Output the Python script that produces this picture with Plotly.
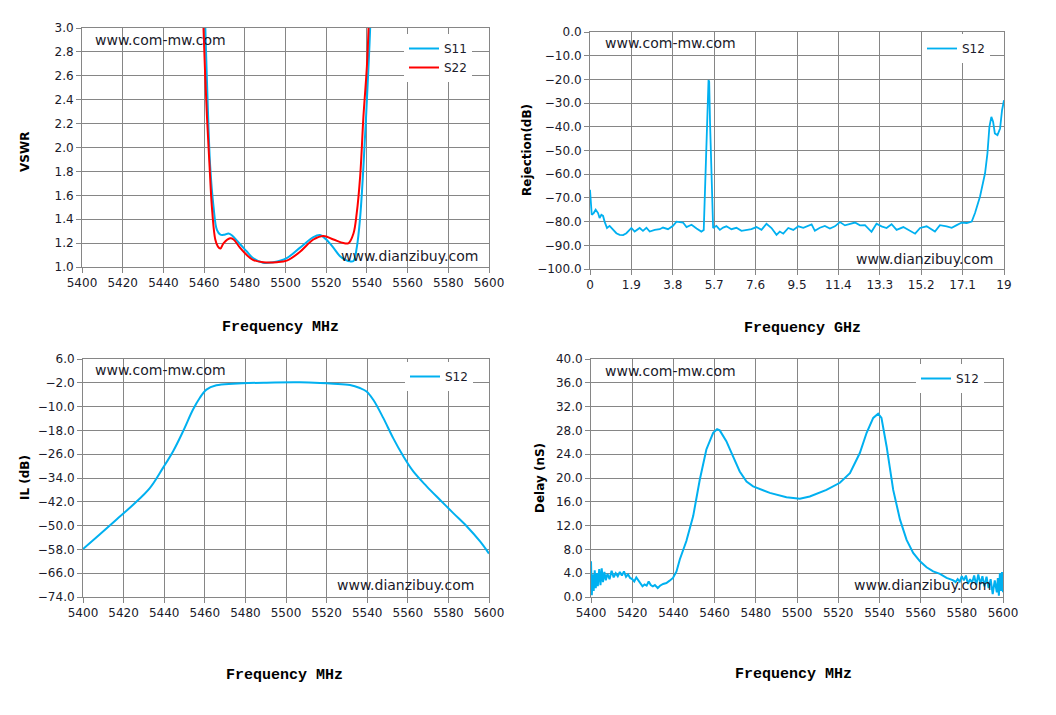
import plotly.graph_objects as go

# ---------------- DATA ----------------
# VSWR (MHz)
vswr_s11_f = [5460.0, 5460.6, 5461.7, 5463.0, 5464.6, 5466.3, 5468.0, 5470.0, 5472.0, 5474.0,
              5477.7, 5481.0, 5484.0, 5489.0, 5494.0, 5500.6, 5507.0, 5513.7, 5517.0, 5520.0,
              5523.6, 5526.8, 5529.5, 5531.7, 5533.4, 5535.0, 5536.7, 5538.3, 5540.0, 5541.6, 5542.0]
vswr_s11_v = [3.3, 3.0, 2.4, 1.84, 1.51, 1.31, 1.27, 1.27, 1.28, 1.26,
              1.19, 1.13, 1.075, 1.035, 1.04, 1.075, 1.16, 1.25, 1.267, 1.23,
              1.16, 1.09, 1.06, 1.047, 1.05, 1.16, 1.42, 1.84, 2.4, 3.0, 3.3]
vswr_s22_f = [5459.4, 5459.7, 5461.4, 5462.7, 5463.8, 5465.5, 5466.8, 5468.0, 5469.6, 5472.8,
              5474.5, 5477.7, 5481.0, 5484.0, 5489.0, 5495.7, 5500.6, 5507.0, 5513.7, 5518.7,
              5523.6, 5528.5, 5531.0, 5533.4, 5535.0, 5536.7, 5538.3, 5540.0, 5540.8, 5541.2]
vswr_s22_v = [3.3, 3.0, 2.26, 1.84, 1.51, 1.23, 1.17, 1.155, 1.2, 1.24,
              1.23, 1.16, 1.1, 1.06, 1.04, 1.04, 1.053, 1.125, 1.23, 1.26,
              1.23, 1.2, 1.2, 1.28, 1.45, 1.76, 2.26, 2.68, 3.0, 3.3]

# Rejection (GHz)
rej_f = [0.00, 0.03, 0.08, 0.17, 0.26, 0.37, 0.44, 0.52, 0.60, 0.67, 0.78, 0.90, 1.06, 1.21, 1.36,
         1.52, 1.67, 1.90, 2.05, 2.28, 2.43, 2.59, 2.74, 2.97, 3.20, 3.35, 3.58, 3.81, 3.97, 4.12,
         4.27, 4.43, 4.66, 4.89, 5.11, 5.22, 5.27, 5.31, 5.38, 5.44, 5.47, 5.51, 5.56, 5.60, 5.65,
         5.80, 5.96, 6.11, 6.26, 6.49, 6.72, 6.95, 7.18, 7.41, 7.64, 7.87, 8.10, 8.33, 8.56, 8.71,
         8.87, 9.10, 9.33, 9.56, 9.79, 10.02, 10.17, 10.32, 10.55, 10.78, 11.01, 11.24, 11.47, 11.70,
         11.93, 12.16, 12.39, 12.62, 12.92, 13.15, 13.38, 13.61, 13.84, 14.07, 14.38, 14.61, 14.92,
         15.15, 15.45, 15.83, 16.06, 16.37, 16.60, 16.83, 17.06, 17.29, 17.52, 17.67, 17.90, 18.13,
         18.24, 18.33, 18.42, 18.50, 18.58, 18.70, 18.82, 18.91, 19.00]
rej_v = [-66.6, -72.9, -77.1, -76.4, -75.0, -76.4, -78.5, -77.1, -77.6, -80.0, -82.7, -81.8, -83.5, -84.9, -85.6,
         -85.7, -84.9, -82.7, -84.2, -82.7, -83.9, -82.6, -84.2, -83.5, -83.2, -82.5, -83.2, -81.8, -80.0, -80.2,
         -80.4, -82.3, -81.3, -82.9, -84.2, -83.5, -70.8, -54.0, -35.8, -20.3, -21.0, -38.6, -58.2, -74.3, -82.7,
         -81.8, -83.5, -82.5, -82.0, -83.2, -82.6, -83.9, -83.5, -83.2, -82.3, -83.5, -80.9, -82.7, -85.6, -84.2,
         -85.1, -82.7, -83.5, -82.0, -82.6, -81.8, -81.2, -83.9, -82.6, -81.8, -82.9, -82.0, -80.2, -81.6,
         -80.9, -80.4, -81.6, -81.5, -84.3, -80.9, -82.0, -82.7, -81.1, -83.5, -82.3, -83.5, -85.1,
         -82.7, -82.0, -84.2, -81.5, -82.0, -82.6, -81.5, -80.4, -80.6, -80.0, -76.4, -69.4, -59.6,
         -51.2, -40.0, -35.8, -37.9, -42.8, -43.5, -40.7, -33.0, -28.8]

# Insertion loss (MHz)
il_f = [5400.0, 5408.2, 5416.4, 5424.7, 5432.9, 5439.4, 5444.4, 5449.3, 5454.2, 5457.5, 5460.8,
        5465.7, 5473.9, 5490.4, 5506.8, 5516.7, 5523.3, 5531.5, 5536.4, 5539.7, 5543.0, 5547.9,
        5552.8, 5557.8, 5562.7, 5569.3, 5575.8, 5582.4, 5589.0, 5595.6, 5600.0]
il_v = [-57.9, -53.0, -48.0, -43.0, -37.4, -30.6, -25.0, -18.3, -11.0, -7.1, -4.3,
        -2.85, -2.3, -1.95, -1.85, -2.05, -2.3, -2.75, -3.75, -4.9, -7.7, -13.8,
        -20.6, -26.7, -31.8, -36.8, -41.3, -45.8, -50.2, -55.3, -59.4]

# Group delay (MHz)
gd_f = [5400.0, 5400.4, 5400.8, 5401.3, 5401.8, 5402.3, 5402.8, 5403.3, 5404.0, 5404.6, 5405.2, 5405.8,
        5406.5, 5407.2, 5408.0, 5409.0, 5410.0, 5411.0, 5412.0, 5413.0, 5414.0, 5415.0, 5416.0, 5417.0,
        5418.0, 5419.0, 5420.0, 5421.0, 5422.0, 5423.0, 5424.0, 5425.0, 5426.0, 5427.0, 5428.0, 5429.0,
        5430.0, 5431.0, 5432.4, 5433.5, 5435.0, 5436.6, 5438.0, 5439.8, 5441.5, 5443.1, 5446.3, 5449.6,
        5452.8, 5456.0, 5459.3, 5461.2, 5462.5, 5465.7, 5469.0, 5472.2, 5475.5, 5478.7, 5486.8, 5494.9,
        5501.4, 5506.2, 5514.3, 5520.8, 5525.7, 5530.5, 5533.8, 5537.0, 5539.4, 5541.0, 5543.5, 5546.7,
        5550.0, 5553.2, 5556.4, 5559.7, 5562.9, 5566.1, 5569.4, 5572.6, 5575.9, 5577.0, 5578.0, 5579.0,
        5580.0, 5581.0, 5582.0, 5583.0, 5584.0, 5585.0, 5586.0, 5587.0, 5588.0, 5589.0, 5590.0, 5591.0,
        5592.0, 5593.0, 5594.0, 5595.0, 5596.0, 5597.0, 5597.5, 5598.0, 5598.5, 5599.0, 5599.5, 5600.0]
gd_v = [6.0, 0.3, 3.8, 1.0, 4.5, 1.5, 4.0, 1.8, 4.7, 2.0, 4.8, 2.5,
        4.2, 2.8, 3.9, 3.0, 4.4, 3.3, 4.0, 3.5, 4.2, 3.6, 4.3, 3.4,
        3.8, 3.2, 3.0, 2.6, 3.3, 2.8, 2.2, 1.8, 2.1, 1.9, 2.6, 2.0,
        1.8, 2.0, 1.5, 1.9, 2.2, 2.35, 2.7, 3.2, 4.3, 6.3, 9.4, 13.6,
        19.7, 24.8, 27.6, 28.2, 28.0, 26.2, 23.6, 21.1, 19.4, 18.6, 17.5, 16.75,
        16.5, 16.9, 18.0, 19.2, 20.8, 24.2, 27.6, 30.1, 30.8, 30.1, 25.3, 18.0,
        13.0, 9.6, 7.4, 6.0, 5.0, 4.3, 3.9, 3.2, 2.8, 2.5, 3.0, 2.6,
        3.5, 2.8, 3.6, 2.2, 3.0, 2.4, 3.6, 2.0, 3.8, 2.2, 3.5, 1.8,
        3.4, 1.5, 3.0, 0.5, 2.8, 0.8, 3.2, 0.2, 4.0, 1.0, 4.2, 0.8]

mhz_ticks = [5400, 5420, 5440, 5460, 5480, 5500, 5520, 5540, 5560, 5580, 5600]
ghz_ticks = [0, 1.9, 3.8, 5.7, 7.6, 9.5, 11.4, 13.3, 15.2, 17.1, 19]
ghz_labels = ["0", "1.9", "3.8", "5.7", "7.6", "9.5", "11.4", "13.3", "15.2", "17.1", "19"]

# ---------------- STYLE ----------------
W, H = 1056, 715
OFF = 8  # page body margin of the browser
BLUE = "#00B0F0"
RED = "#FF0000"
GRID = "#868686"
TXT = "#1a1a2a"
FONT = "DejaVu Sans"


def px(x):
    return (x - OFF) / W


def py(y):
    return 1 - (y - OFF) / H


def xd(a, b):
    return [px(a), px(b)]


def yd(top, bot):
    return [py(bot), py(top)]


fig = go.Figure()
fig.add_trace(go.Scatter(x=vswr_s11_f, y=vswr_s11_v, mode="lines", name="S11", line_shape="spline",
                         line=dict(color=BLUE, width=2), xaxis="x", yaxis="y", legend="legend"))
fig.add_trace(go.Scatter(x=vswr_s22_f, y=vswr_s22_v, mode="lines", name="S22", line_shape="spline",
                         line=dict(color=RED, width=2), xaxis="x", yaxis="y", legend="legend"))
fig.add_trace(go.Scatter(x=rej_f, y=rej_v, mode="lines", name="S12",
                         line=dict(color=BLUE, width=1.8), xaxis="x2", yaxis="y2", legend="legend2"))
fig.add_trace(go.Scatter(x=il_f, y=il_v, mode="lines", name="S12", line_shape="spline",
                         line=dict(color=BLUE, width=2), xaxis="x3", yaxis="y3", legend="legend3"))
fig.add_trace(go.Scatter(x=gd_f, y=gd_v, mode="lines", name="S12",
                         line=dict(color=BLUE, width=2), xaxis="x4", yaxis="y4", legend="legend4"))

axcommon = dict(showgrid=True, gridcolor=GRID, gridwidth=1, showline=True, linecolor=GRID,
                linewidth=1, mirror=True, ticks="outside", ticklen=5, tickcolor=GRID,
                zeroline=False, automargin=False, tickfont=dict(family=FONT, size=12, color=TXT))

layout = dict(
    width=W, height=H, margin=dict(l=0, r=0, t=0, b=0, autoexpand=False),
    paper_bgcolor="white", plot_bgcolor="white", showlegend=True,
    xaxis=dict(domain=xd(82, 489), range=[5400, 5600], tickvals=mhz_ticks, anchor="y", **axcommon),
    yaxis=dict(domain=yd(28, 267), range=[1.0, 3.0], dtick=0.2, tick0=1.0, tickformat=".1f",
               anchor="x", **axcommon),
    xaxis2=dict(domain=xd(590, 1004), range=[0, 19], tickvals=ghz_ticks, ticktext=ghz_labels,
                anchor="y2", **axcommon),
    yaxis2=dict(domain=yd(32, 269), range=[-100, 0], dtick=10, tickformat=".1f",
                anchor="x2", **axcommon),
    xaxis3=dict(domain=xd(83, 489), range=[5400, 5600], tickvals=mhz_ticks, anchor="y3", **axcommon),
    yaxis3=dict(domain=yd(359, 597), range=[-74, 6], dtick=8, tick0=6, tickformat=".1f",
                anchor="x3", **axcommon),
    xaxis4=dict(domain=xd(591, 1003), range=[5400, 5600], tickvals=mhz_ticks, anchor="y4", **axcommon),
    yaxis4=dict(domain=yd(359, 597), range=[0, 40], dtick=4, tickformat=".1f",
                anchor="x4", **axcommon),
)

legcommon = dict(bgcolor="white", borderwidth=0, font=dict(family=FONT, size=12, color=TXT),
                 xanchor="left", yanchor="top", itemwidth=30, tracegroupgap=0)
layout["legend"] = dict(x=px(404), y=py(34), **legcommon)
layout["legend2"] = dict(x=px(922), y=py(34), **legcommon)
layout["legend3"] = dict(x=px(405), y=py(362), **legcommon)
layout["legend4"] = dict(x=px(916), y=py(364), **legcommon)
fig.update_layout(**layout)

ann = []


def txt(x, y, s, xanchor="left", size=14, **kw):
    ann.append(dict(x=px(x), y=py(y), xref="paper", yref="paper", text=s, showarrow=False,
                    xanchor=xanchor, yanchor="middle",
                    font=dict(family=FONT, size=size, color=TXT), **kw))


# watermarks
txt(93, 40, "www.com-mw.com")
txt(480, 256, "www.dianzibuy.com", xanchor="right")
txt(603, 43, "www.com-mw.com")
txt(995, 259, "www.dianzibuy.com", xanchor="right")
txt(93, 370, "www.com-mw.com")
txt(476, 585, "www.dianzibuy.com", xanchor="right")
txt(603, 371, "www.com-mw.com")
txt(993, 585, "www.dianzibuy.com", xanchor="right")

# axis titles
for (x, y, s) in [(280, 327, "Frequency MHz"), (802, 329, "Frequency GHz"),
                  (284, 675, "Frequency MHz"), (793, 674, "Frequency MHz")]:
    ann.append(dict(x=px(x), y=py(y), xref="paper", yref="paper", text="<b>" + s + "</b>",
                    showarrow=False, xanchor="center", yanchor="middle",
                    font=dict(family="Liberation Mono", size=15, color="#000")))
for (x, y, s) in [(25, 152, "VSWR"), (527, 150, "Rejection(dB)"),
                  (25, 478, "IL (dB)"), (540, 478, "Delay (nS)")]:
    ann.append(dict(x=px(x), y=py(y), xref="paper", yref="paper", text="<b>" + s + "</b>",
                    showarrow=False, xanchor="center", yanchor="middle", textangle=-90,
                    font=dict(family=FONT, size=12, color="#000")))

fig.update_layout(annotations=ann)
fig.write_html("out.html")
